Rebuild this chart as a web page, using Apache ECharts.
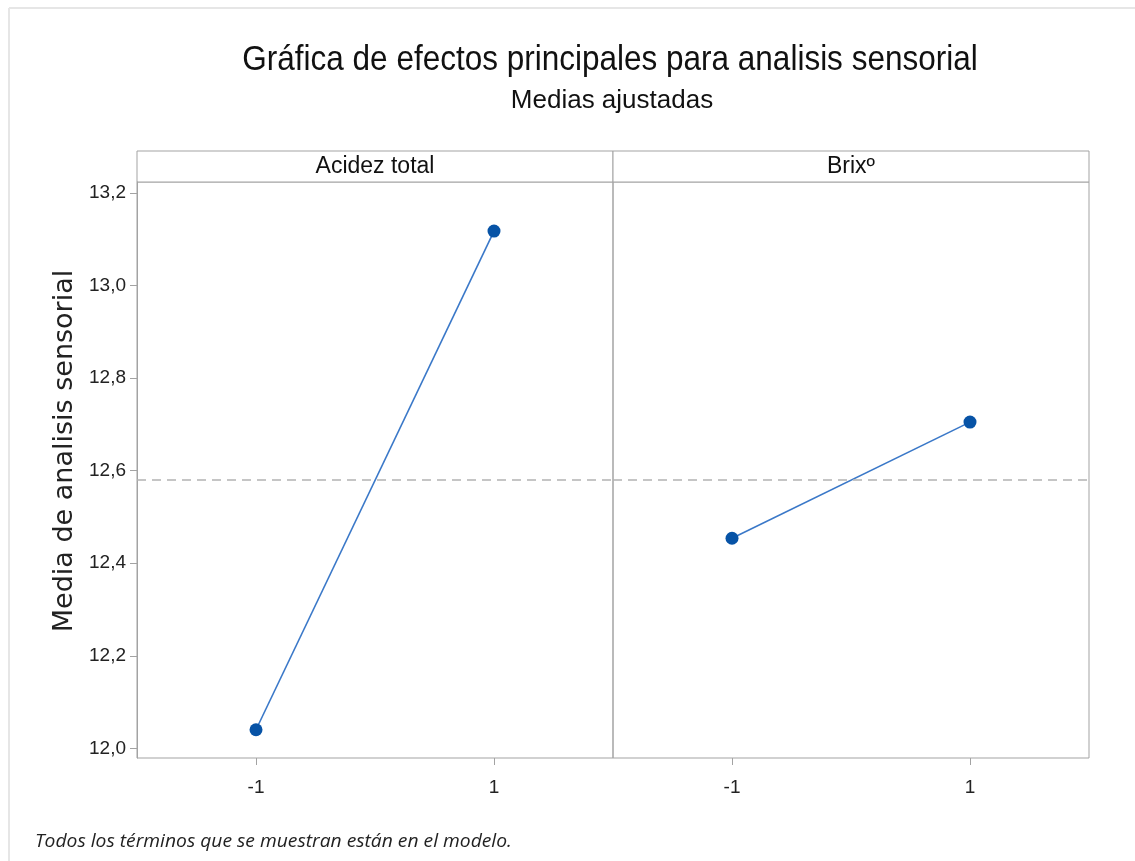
<!DOCTYPE html>
<html>
<head>
<meta charset="utf-8">
<title>Gráfica de efectos principales</title>
<script src="https://cdn.jsdelivr.net/npm/echarts@6/dist/echarts.min.js"></script>
<style>
  html, body { margin: 0; padding: 0; background: #ffffff; }
  #chart { width: 1135px; height: 861px; }
</style>
</head>
<body>
<div id="chart"></div>
<script>
// Main effects: fitted means of the sensory score at each factor level
const factorNames = ['Acidez total', 'Brixº'];
const levels = ['-1', '1'];
const acidezMeans = [12.040, 13.118];
const brixMeans = [12.454, 12.705];
const grandMean = 12.579;
const yTicks = [12.0, 12.2, 12.4, 12.6, 12.8, 13.0, 13.2];
const yRange = [11.979, 13.224];

const titleText = 'Gráfica de efectos principales para analisis sensorial';
const subtitleText = 'Medias ajustadas';
const yAxisTitle = 'Media de analisis sensorial';
const footnote = 'Todos los términos que se muestran están en el modelo.';

const SANS = '"Liberation Sans", Arial, sans-serif';
const FRAME = '#a3a3a3';

const panels = [
  { left: 137, top: 182, width: 476, height: 576 },
  { left: 613, top: 182, width: 476, height: 576 }
];
const seriesValues = [acidezMeans, brixMeans];

const chart = echarts.init(document.getElementById('chart'), null, { renderer: 'canvas' });

const option = {
  backgroundColor: '#ffffff',
  animation: false,
  grid: panels.map(p => ({
    left: p.left, top: p.top, width: p.width, height: p.height,
    show: true, borderColor: FRAME, borderWidth: 1, backgroundColor: 'transparent',
    containLabel: false
  })),
  xAxis: panels.map((p, i) => ({
    type: 'category',
    gridIndex: i,
    data: levels,
    boundaryGap: true,
    axisLine: { show: false },
    axisTick: { show: true, alignWithLabel: true, length: 7, lineStyle: { color: FRAME, width: 1 } },
    axisLabel: { margin: 20, fontFamily: SANS, fontSize: 19, color: '#222222' },
    splitLine: { show: false }
  })),
  yAxis: panels.map((p, i) => ({
    type: 'value',
    gridIndex: i,
    min: yRange[0],
    max: yRange[1],
    show: i === 0,
    axisLine: { show: true, lineStyle: { color: FRAME, width: 1 } },
    axisTick: { show: true, length: 7, customValues: yTicks, lineStyle: { color: FRAME, width: 1 } },
    axisLabel: {
      customValues: yTicks,
      margin: 11,
      fontFamily: SANS, fontSize: 19, color: '#222222',
      formatter: v => v.toFixed(1).replace('.', ',')
    },
    splitLine: { show: false }
  })),
  series: seriesValues.map((vals, i) => ({
    type: 'line',
    name: factorNames[i],
    xAxisIndex: i,
    yAxisIndex: i,
    data: vals,
    symbol: 'circle',
    symbolSize: 13,
    lineStyle: { color: '#3a78c8', width: 1.6 },
    itemStyle: { color: '#0753a6' },
    markLine: {
      silent: true,
      symbol: 'none',
      label: { show: false },
      lineStyle: { color: '#b3b3b3', type: [9, 6], width: 1.6 },
      data: [{ yAxis: grandMean }]
    }
  })),
  graphic: [
    // light outer frame
    { type: 'line', shape: { x1: 9, y1: 8, x2: 1135, y2: 8 }, style: { stroke: '#e6e6e6', lineWidth: 2 } },
    { type: 'line', shape: { x1: 9, y1: 8, x2: 9, y2: 861 }, style: { stroke: '#e6e6e6', lineWidth: 2 } },
    // titles (condensed look)
    { type: 'text', x: 610, y: 60, scaleX: 0.9, style: { text: titleText, textAlign: 'center', textVerticalAlign: 'middle', font: '35px ' + SANS, fill: '#111111' } },
    { type: 'text', x: 612, y: 101, style: { text: subtitleText, textAlign: 'center', textVerticalAlign: 'middle', font: '26px ' + SANS, fill: '#111111' } },
    // y-axis title
    { type: 'text', x: 65, y: 451, rotation: Math.PI / 2, style: { text: yAxisTitle, textAlign: 'center', textVerticalAlign: 'middle', font: '27px "DejaVu Sans", sans-serif', fill: '#222222' } },
    // panel strips
    ...panels.flatMap((p, i) => [
      { type: 'rect', shape: { x: p.left, y: 151, width: p.width, height: 31 }, style: { fill: '#ffffff', stroke: FRAME, lineWidth: 1 } },
      { type: 'text', x: p.left + p.width / 2, y: 167, style: { text: factorNames[i], textAlign: 'center', textVerticalAlign: 'middle', font: '23px ' + SANS, fill: '#111111' } }
    ]),
    // footnote
    { type: 'text', x: 35, y: 842, scaleX: 1.07, style: { text: footnote, textAlign: 'left', textVerticalAlign: 'middle', font: 'italic 18px "Open Sans", sans-serif', fill: '#222222' } }
  ]
};

chart.setOption(option);
</script>
</body>
</html>
